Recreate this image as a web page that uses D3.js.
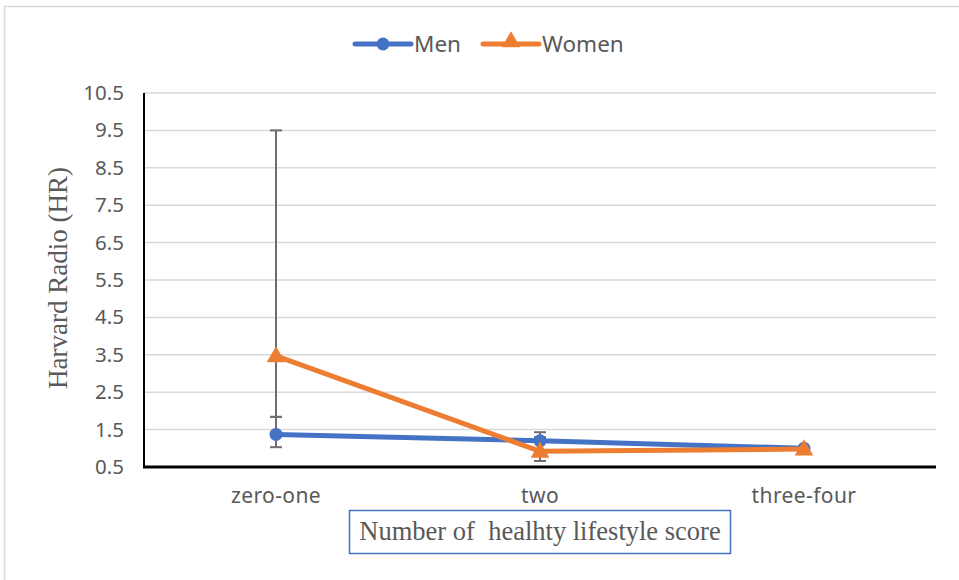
<!DOCTYPE html>
<html><head><meta charset="utf-8">
<script src="https://cdn.jsdelivr.net/npm/d3@7"></script>
<style>body{margin:0;background:#fff}svg{display:block}</style>
</head><body>
<svg id="c" width="959" height="580"></svg>
<script>
const categories = ["zero-one", "two", "three-four"];
const menValues = [1.37, 1.20, 1.00];
const menLow = [1.03, 0.66, 1.00];
const menHigh = [1.84, 1.43, 1.00];
const womenValues = [3.47, 0.92, 0.98];
const womenLow = [1.84, 0.66, 0.98];
const womenHigh = [9.5, 1.30, 0.98];
const yTicks = [0.5, 1.5, 2.5, 3.5, 4.5, 5.5, 6.5, 7.5, 8.5, 9.5, 10.5];
const seriesNames = ["Men", "Women"];

const svg = d3.select("#c");
const L = 144, R = 936, T = 93, B = 467;
const x = d3.scaleBand().domain(categories).range([L, R]);
const y = d3.scaleLinear().domain([0.5, 10.5]).range([B, T]);
const tickFont = "'Noto Sans', sans-serif";
const blue = "#4472C4", orange = "#ED7D31", grey = "#595959";

// outer border
svg.append("rect").attr("x", 4.5).attr("y", 6.5).attr("width", 1000).attr("height", 1000)
  .attr("fill", "none").attr("stroke", "#d9d9d9").attr("stroke-width", 1.5);

// grid
svg.append("g").selectAll("line").data(yTicks.slice(1)).join("line")
  .attr("x1", L).attr("x2", R).attr("y1", d => y(d)).attr("y2", d => y(d))
  .attr("stroke", "#d9d9d9").attr("stroke-width", 1.5);

// y axis
const ya = svg.append("g").attr("transform", `translate(${L},0)`)
  .call(d3.axisLeft(y).tickValues(yTicks).tickFormat(d3.format(".1f")).tickSize(0).tickPadding(20));
ya.select(".domain").remove();
ya.selectAll("text").attr("font-family", tickFont).attr("font-size", 20.5).attr("fill", grey);
svg.append("line").attr("x1", L).attr("x2", L).attr("y1", T).attr("y2", B + 1)
  .attr("stroke", "#000").attr("stroke-width", 2);

// x axis
const xa = svg.append("g").attr("transform", `translate(0,${B})`)
  .call(d3.axisBottom(x).tickSize(0).tickPadding(21));
xa.select(".domain").remove();
xa.selectAll("text").attr("font-family", tickFont).attr("font-size", 21).attr("fill", grey)
  .attr("letter-spacing", 0.4);
svg.append("line").attr("x1", L - 1).attr("x2", R).attr("y1", B).attr("y2", B)
  .attr("stroke", "#000").attr("stroke-width", 3);

const cx = c => x(c) + x.bandwidth() / 2;
const line = d3.line().x(d => cx(d[0])).y(d => y(d[1]));

// error bars
function errBars(lo, hi) {
  const g = svg.append("g");
  categories.forEach((c, i) => {
    if (hi[i] === lo[i]) return;
    g.append("line").attr("x1", cx(c)).attr("x2", cx(c)).attr("y1", y(lo[i])).attr("y2", y(hi[i]))
      .attr("stroke", "#6e6e6e").attr("stroke-width", 2);
    [lo[i], hi[i]].forEach(v => g.append("line").attr("x1", cx(c) - 6).attr("x2", cx(c) + 6)
      .attr("y1", y(v)).attr("y2", y(v)).attr("stroke", "#6e6e6e").attr("stroke-width", 2));
  });
}
errBars(menLow, menHigh);
errBars(womenLow, womenHigh);

// men
svg.append("path").datum(categories.map((c, i) => [c, menValues[i]])).attr("d", line)
  .attr("fill", "none").attr("stroke", blue).attr("stroke-width", 5);
svg.append("g").selectAll("circle").data(categories).join("circle")
  .attr("cx", d => cx(d)).attr("cy", (d, i) => y(menValues[i])).attr("r", 6.5).attr("fill", blue);

// women
svg.append("path").datum(categories.map((c, i) => [c, womenValues[i]])).attr("d", line)
  .attr("fill", "none").attr("stroke", orange).attr("stroke-width", 5);
const tri = d3.symbol().type(d3.symbolTriangle).size(150);
svg.append("g").selectAll("path").data(categories).join("path")
  .attr("transform", (d, i) => `translate(${cx(d)},${y(womenValues[i]) + 1})`)
  .attr("d", tri).attr("fill", orange);

// legend
const leg = [{n: seriesNames[0], c: blue, x: 355, sym: "c"}, {n: seriesNames[1], c: orange, x: 483, sym: "t"}];
leg.forEach(l => {
  svg.append("line").attr("x1", l.x).attr("x2", l.x + 56).attr("y1", 44).attr("y2", 44)
    .attr("stroke", l.c).attr("stroke-width", 5).attr("stroke-linecap", "round");
  if (l.sym === "c") svg.append("circle").attr("cx", l.x + 28).attr("cy", 44).attr("r", 6.5).attr("fill", l.c);
  else svg.append("path").attr("transform", `translate(${l.x + 28},42)`).attr("d", tri).attr("fill", l.c);
  svg.append("text").attr("x", l.x + 59).attr("y", 52).text(l.n)
    .attr("font-family", tickFont).attr("font-size", 22.5).attr("fill", grey);
});

// y title
svg.append("text").attr("transform", "translate(67,278) rotate(-90)").attr("text-anchor", "middle")
  .attr("font-family", "'Liberation Serif', serif").attr("font-size", 27).attr("fill", grey)
  .text("Harvard Radio (HR)");

// x title with box
svg.append("rect").attr("x", 349.5).attr("y", 510.5).attr("width", 381).attr("height", 43)
  .attr("fill", "#fff").attr("stroke", blue).attr("stroke-width", 1.5);
svg.append("text").attr("x", 540).attr("y", 540).attr("text-anchor", "middle")
  .attr("font-family", "'Liberation Serif', serif").attr("font-size", 26.5).attr("fill", grey)
  .attr("xml:space", "preserve").style("white-space", "pre")
  .text("Number of  healhty lifestyle score");
</script>
</body></html>
